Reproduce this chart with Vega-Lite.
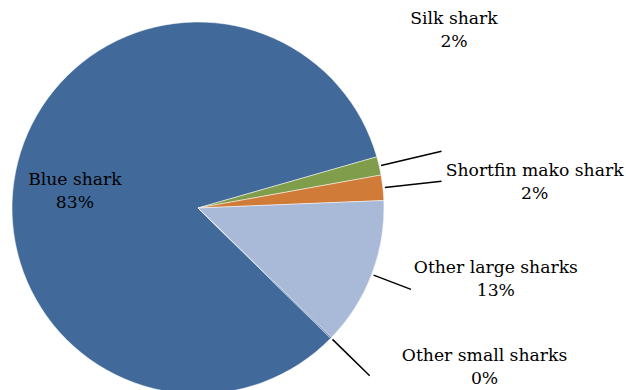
{
  "$schema": "https://vega.github.io/schema/vega-lite/v6.json",
  "autosize": "none",
  "width": 396,
  "height": 416,
  "padding": {"left": 0, "top": 0, "right": 230, "bottom": 0},
  "background": "#ffffff",
  "config": {"view": {"stroke": null}, "text": {"font": "DejaVu Serif", "fontSize": 17.2, "lineHeight": 23, "color": "#000000"}},
  "data": {"values": [
    {"label": "Blue shark", "value": 83.2, "caption": "Blue shark\n83%", "rank": 1},
    {"label": "Silk shark", "value": 1.6, "caption": "Silk shark\n2%", "rank": 2},
    {"label": "Shortfin mako shark", "value": 2.2, "caption": "Shortfin mako shark\n2%", "rank": 3},
    {"label": "Other large sharks", "value": 12.9, "caption": "Other large sharks\n13%", "rank": 4},
    {"label": "Other small sharks", "value": 0.1, "caption": "Other small sharks\n0%", "rank": 5}
  ]},
  "encoding": {
    "theta": {"field": "value", "type": "quantitative", "stack": true, "scale": {"range": [2.3475, 8.6307]}},
    "order": {"field": "rank", "type": "quantitative"}
  },
  "layer": [
    {
      "mark": {"type": "arc", "outerRadius": 186, "stroke": "#ffffff", "strokeWidth": 0.5},
      "encoding": {
        "color": {"field": "label", "type": "nominal", "legend": null,
          "scale": {"domain": ["Blue shark", "Silk shark", "Shortfin mako shark", "Other large sharks", "Other small sharks"],
                    "range": ["#416a9b", "#7f9d4a", "#d07b38", "#a9b9d8", "#416a9b"]}}
      }
    },
    {
      "mark": {"type": "arc", "padAngle": 1.1, "fillOpacity": 0, "stroke": "#000000", "strokeWidth": 1.5},
      "encoding": {
        "radius": {"value": 250}, "radius2": {"value": 188},
        "strokeOpacity": {"condition": {"test": "datum.label === 'Silk shark'", "value": 1}, "value": 0}
      }
    },
    {
      "mark": {"type": "arc", "padAngle": 1.1, "fillOpacity": 0, "stroke": "#000000", "strokeWidth": 1.5},
      "encoding": {
        "radius": {"value": 245}, "radius2": {"value": 188},
        "strokeOpacity": {"condition": {"test": "datum.label === 'Shortfin mako shark'", "value": 1}, "value": 0}
      }
    },
    {
      "mark": {"type": "arc", "padAngle": 1.1, "fillOpacity": 0, "stroke": "#000000", "strokeWidth": 1.5},
      "encoding": {
        "radius": {"value": 228}, "radius2": {"value": 188},
        "strokeOpacity": {"condition": {"test": "datum.label === 'Other large sharks'", "value": 1}, "value": 0}
      }
    },
    {
      "mark": {"type": "arc", "padAngle": 1.1, "fillOpacity": 0, "stroke": "#000000", "strokeWidth": 1.5},
      "encoding": {
        "radius": {"value": 240}, "radius2": {"value": 188},
        "strokeOpacity": {"condition": {"test": "datum.label === 'Other small sharks'", "value": 1}, "value": 0}
      }
    },
    {
      "mark": {"type": "text", "radius": 128, "dx": 1, "dy": 8.5, "lineBreak": "\n", "align": "center", "baseline": "alphabetic"},
      "encoding": {"text": {"condition": {"test": "datum.label === 'Blue shark'", "field": "caption"}, "value": ""}}
    },
    {
      "mark": {"type": "text", "radius": 230, "dx": 32, "dy": -132, "lineBreak": "\n", "align": "center", "baseline": "alphabetic"},
      "encoding": {"text": {"condition": {"test": "datum.label === 'Silk shark'", "field": "caption"}, "value": ""}}
    },
    {
      "mark": {"type": "text", "radius": 230, "dx": 108, "dy": -7, "lineBreak": "\n", "align": "center", "baseline": "alphabetic"},
      "encoding": {"text": {"condition": {"test": "datum.label === 'Shortfin mako shark'", "field": "caption"}, "value": ""}}
    },
    {
      "mark": {"type": "text", "radius": 230, "dx": 83, "dy": -17, "lineBreak": "\n", "align": "center", "baseline": "alphabetic"},
      "encoding": {"text": {"condition": {"test": "datum.label === 'Other large sharks'", "field": "caption"}, "value": ""}}
    },
    {
      "mark": {"type": "text", "radius": 230, "dx": 122, "dy": -8, "lineBreak": "\n", "align": "center", "baseline": "alphabetic"},
      "encoding": {"text": {"condition": {"test": "datum.label === 'Other small sharks'", "field": "caption"}, "value": ""}}
    }
  ]
}
